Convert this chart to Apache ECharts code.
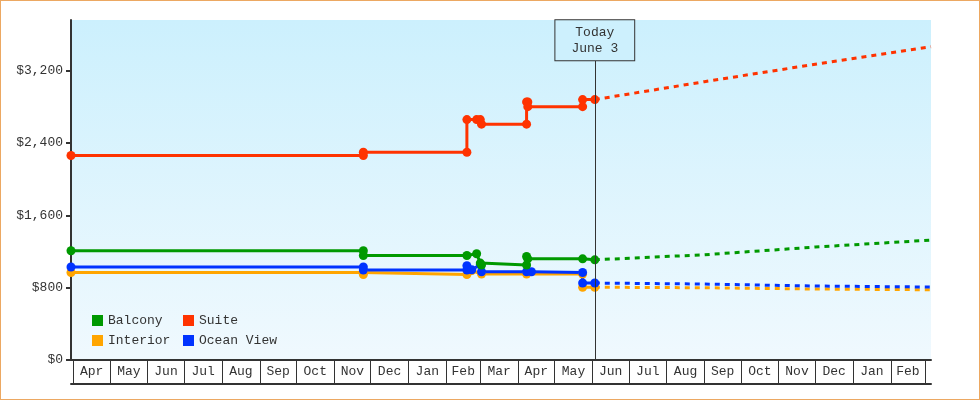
<!DOCTYPE html>
<html lang="en">
<head>
    <meta charset="UTF-8">
    <title>Cabin prices</title>
    <script src="https://cdn.jsdelivr.net/npm/echarts@6.0.0/dist/echarts.min.js"></script>
    <style>
        body { margin: 0; }
        #main { position: absolute; left: 0; top: 0; width: 980px; height: 400px; }
        #frame { position: absolute; left: 0; top: 0; width: 980px; height: 400px;
                 box-sizing: border-box; border: 1px solid #eca862; pointer-events: none; }
    </style>
</head>
<body>
    <div id="main"></div>
    <div id="frame"></div>
    <script>
        var FONT = 'Liberation Mono';

        // x axis range and month boxes
        var axisStart = '2017-03-30';
        var axisEnd = '2019-03-06';
        var monthStarts = ['2017-04-01', '2017-05-01', '2017-06-01', '2017-07-01', '2017-08-01', '2017-09-01',
            '2017-10-01', '2017-11-01', '2017-12-01', '2018-01-01', '2018-02-01', '2018-03-01',
            '2018-04-01', '2018-05-01', '2018-06-01', '2018-07-01', '2018-08-01', '2018-09-01',
            '2018-10-01', '2018-11-01', '2018-12-01', '2019-01-01', '2019-02-01', '2019-03-01'];
        var monthLabels = ['Apr', 'May', 'Jun', 'Jul', 'Aug', 'Sep', 'Oct', 'Nov', 'Dec', 'Jan', 'Feb', 'Mar',
            'Apr', 'May', 'Jun', 'Jul', 'Aug', 'Sep', 'Oct', 'Nov', 'Dec', 'Jan', 'Feb'];
        var yTicks = [0, 800, 1600, 2400, 3200];

        var today = '2018-06-03';
        var todayLabel = 'Today\nJune 3';

        // price history
        var suite = [['2017-03-30', 2261], ['2017-11-25', 2261], ['2017-11-25', 2298], ['2018-02-18', 2298],
            ['2018-02-18', 2659], ['2018-02-26', 2659], ['2018-03-01', 2659], ['2018-03-02', 2608],
            ['2018-04-08', 2608], ['2018-04-08', 2854], ['2018-04-09', 2854], ['2018-04-09', 2802],
            ['2018-05-24', 2802], ['2018-05-24', 2880], ['2018-06-03', 2880]];
        var balcony = [['2017-03-30', 1208], ['2017-11-25', 1208], ['2017-11-25', 1156], ['2018-02-18', 1156],
            ['2018-02-26', 1175], ['2018-03-01', 1072], ['2018-03-02', 1050], ['2018-04-08', 1050],
            ['2018-04-08', 1145], ['2018-04-09', 1119], ['2018-05-24', 1119], ['2018-06-03', 1108]];
        var oceanView = [['2017-03-30', 1028], ['2017-11-25', 1028], ['2017-11-25', 994], ['2018-02-18', 994],
            ['2018-02-18', 1042], ['2018-02-22', 998], ['2018-03-01', 1053], ['2018-03-02', 976],
            ['2018-04-08', 976], ['2018-04-12', 976], ['2018-05-24', 968], ['2018-05-24', 851],
            ['2018-06-03', 851]];
        var interior = [['2017-03-30', 968], ['2017-11-25', 968], ['2017-11-25', 946], ['2018-02-18', 946],
            ['2018-02-22', 990], ['2018-03-02', 950], ['2018-04-08', 950], ['2018-05-24', 950],
            ['2018-05-24', 805], ['2018-06-03', 805]];

        // forecast
        var suiteForecast = [['2018-06-03', 2880], ['2018-09-01', 3078], ['2018-12-01', 3271], ['2019-03-06', 3465]];
        var balconyForecast = [['2018-06-03', 1108], ['2018-09-01', 1164], ['2018-12-01', 1249], ['2019-03-06', 1326]];
        var oceanViewForecast = [['2018-06-03', 851], ['2018-09-01', 840], ['2018-12-01', 818], ['2019-03-06', 807]];
        var interiorForecast = [['2018-06-03', 805], ['2018-09-01', 799], ['2018-12-01', 785], ['2019-03-06', 777]];

        function t(s) {
            var p = s.split('-');
            return new Date(+p[0], +p[1] - 1, +p[2]).getTime();
        }
        function pts(arr) {
            return arr.map(function (d) { return [t(d[0]), d[1]]; });
        }

        var tickValues = monthStarts.map(t);
        var labelValues = [], labelText = {};
        for (var i = 0; i < monthLabels.length; i++) {
            var mid = (tickValues[i] + tickValues[i + 1]) / 2;
            labelValues.push(mid);
            labelText[mid] = monthLabels[i];
        }

        var colors = { 'Balcony': '#009900', 'Suite': '#ff3300', 'Interior': '#ffa500', 'Ocean View': '#0033ff' };

        function history(name, data) {
            return {
                name: name, type: 'line', data: pts(data), color: colors[name],
                symbol: 'circle', symbolSize: 9, showAllSymbol: true,
                lineStyle: { width: 3 }, emphasis: { disabled: true }
            };
        }
        function forecast(name, data) {
            return {
                name: name, type: 'line', data: pts(data), color: colors[name],
                showSymbol: false, lineStyle: { width: 3, type: [5, 5] }, emphasis: { disabled: true }
            };
        }

        var suiteSeries = history('Suite', suite);
        suiteSeries.markLine = {
            silent: true, symbol: 'none', animation: false,
            lineStyle: { color: '#333', width: 1, type: 'solid' },
            label: {
                show: true, position: 'end', distance: 0, formatter: todayLabel,
                fontFamily: FONT, fontSize: 13, lineHeight: 16, color: '#333',
                padding: [4, 16], borderColor: '#333', borderWidth: 1, backgroundColor: '#cdf0fd'
            },
            data: [[{ coord: [t(today), 0] }, { coord: [t(today), 3315] }]]
        };

        var myChart = echarts.init(document.getElementById('main'));
        var option = {
            animation: false,
            backgroundColor: '#ffffff',
            grid: {
                left: 71, right: 49, top: 20, bottom: 40, show: true, borderWidth: 0,
                backgroundColor: new echarts.graphic.LinearGradient(0, 0, 0, 1, [
                    { offset: 0, color: '#ccf0fd' }, { offset: 1, color: '#f0f9fe' }])
            },
            legend: {
                left: 92, top: 313, width: 200, orient: 'horizontal', padding: 0,
                itemWidth: 11, itemHeight: 11, itemGap: 5, icon: 'rect', selectedMode: false,
                data: ['Balcony', 'Suite', 'Interior', 'Ocean View'],
                formatter: function (name) { return '{w|' + name + '}'; },
                textStyle: {
                    fontFamily: FONT, fontSize: 13, color: '#333',
                    rich: { w: { width: 70, height: 15, lineHeight: 15, fontFamily: FONT, fontSize: 13, color: '#333' } }
                }
            },
            xAxis: [{
                type: 'value', min: t(axisStart), max: t(axisEnd), scale: true,
                axisLine: { lineStyle: { color: '#333', width: 2 } },
                axisTick: { show: true, customValues: tickValues, length: 24, lineStyle: { color: '#333', width: 1 } },
                axisLabel: {
                    customValues: labelValues, formatter: function (v) { return labelText[v]; },
                    fontFamily: FONT, fontSize: 13, color: '#333', margin: 5
                },
                splitLine: { show: false }
            }, {
                type: 'value', min: t(axisStart), max: t(axisEnd), scale: true, position: 'bottom', offset: 24,
                axisLine: { lineStyle: { color: '#333', width: 2 } },
                axisTick: { show: false }, axisLabel: { show: false }, splitLine: { show: false }
            }],
            yAxis: {
                type: 'value', min: 0, max: 3760,
                axisLine: { show: true, lineStyle: { color: '#333', width: 2 } },
                axisTick: { show: true, customValues: yTicks, length: 5, lineStyle: { color: '#333', width: 2 } },
                axisLabel: {
                    customValues: yTicks,
                    formatter: function (v) { return '$' + v.toLocaleString('en-US'); },
                    fontFamily: FONT, fontSize: 13, color: '#333', margin: 8
                },
                splitLine: { show: false }
            },
            series: [
                history('Interior', interior),
                history('Ocean View', oceanView),
                history('Balcony', balcony),
                suiteSeries,
                forecast('Interior', interiorForecast),
                forecast('Ocean View', oceanViewForecast),
                forecast('Balcony', balconyForecast),
                forecast('Suite', suiteForecast)
            ]
        };
        myChart.setOption(option);
    </script>
</body>
</html>
